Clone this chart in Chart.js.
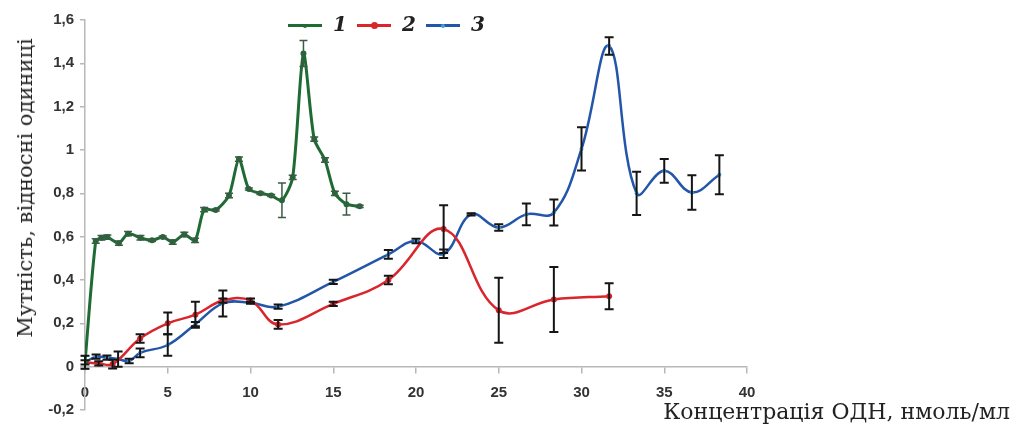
<!DOCTYPE html>
<html>
<head>
<meta charset="utf-8">
<script src="https://cdn.jsdelivr.net/npm/chart.js@4.4.1/dist/chart.umd.min.js"></script>
<style>
  html, body { margin: 0; padding: 0; background: #fff; }
  #wrap { position: relative; width: 1017px; height: 434px; overflow: hidden; }
  canvas { position: absolute; left: 0; top: 0; }
  .ytitle {
    position: absolute; left: 25px; top: 188px;
    transform: translate(-50%, -50%) rotate(-90deg);
    font-family: "DejaVu Serif", serif; font-size: 21px; color: #222;
    white-space: nowrap;
  }
  .xtitle {
    position: absolute; right: 7px; top: 399px;
    font-family: "DejaVu Serif", serif; font-size: 22px; color: #222;
    white-space: nowrap;
  }
  .legend { position: absolute; left: 288px; top: 12px; height: 26px; }
  .item { position: absolute; top: 0; height: 26px; }
  .item .ln { position: absolute; top: 12px; width: 34px; height: 3px; }
  .item .dot { position: absolute; border-radius: 50%; }
  .item .lab {
    position: absolute; top: 0; font-family: "DejaVu Serif", serif;
    font-style: italic; font-weight: bold; font-size: 20px; color: #222;
  }
</style>
</head>
<body>
<div id="wrap">
  <canvas id="turbidityChart" width="1017" height="434"></canvas>
  <div class="ytitle">Мутність, відносні одиниці</div>
  <div class="xtitle">Концентрація ОДН, нмоль/мл</div>
  <div class="legend" id="legend"></div>
</div>
<script>
// series 1 (green)
const x1 = [0, 0.65, 1.0, 1.35, 2.05, 2.6, 3.35, 4.05, 4.7, 5.3, 6.0, 6.65, 7.2, 7.9, 8.7, 9.3, 9.9, 10.6, 11.25, 11.9, 12.55, 13.2, 13.85, 14.5, 15.1, 15.8, 16.6];
const y1 = [0.02, 0.58, 0.595, 0.598, 0.57, 0.614, 0.595, 0.583, 0.598, 0.575, 0.61, 0.583, 0.725, 0.723, 0.79, 0.958, 0.82, 0.8, 0.79, 0.768, 0.874, 1.445, 1.05, 0.954, 0.8, 0.75, 0.74];
const e1 = [0.03, 0.01, 0.01, 0.01, 0.01, 0.01, 0.01, 0.005, 0.005, 0.01, 0.01, 0.01, 0.01, 0.005, 0.01, 0.01, 0.005, 0.005, 0.005, 0.08, 0.01, 0.06, 0.01, 0.01, 0.01, 0.05, 0.005];

// series 2 (red)
const x2 = [0, 0.83, 1.67, 3.33, 5, 6.67, 8.33, 10, 11.67, 15, 18.33, 21.67, 25, 28.33, 31.67];
const y2 = [0.02, 0.015, 0.012, 0.13, 0.2, 0.24, 0.305, 0.305, 0.195, 0.29, 0.4, 0.635, 0.26, 0.31, 0.325];
const e2 = [0.01, 0.01, 0.02, 0.02, 0.05, 0.06, 0.01, 0.01, 0.02, 0.01, 0.02, 0.11, 0.15, 0.15, 0.06];

// series 3 (blue)
const x3 = [0, 0.67, 1.33, 2.0, 2.67, 3.33, 5, 6.67, 8.33, 10, 11.67, 15, 18.33, 20, 21.67, 23.33, 25, 26.67, 28.33, 30, 31.67, 33.33, 35, 36.67, 38.33];
const y3 = [0.02, 0.046, 0.042, 0.035, 0.026, 0.064, 0.1, 0.196, 0.292, 0.295, 0.277, 0.391, 0.518, 0.58, 0.521, 0.703, 0.642, 0.703, 0.711, 1.005, 1.48, 0.8, 0.904, 0.804, 0.886];
const e3 = [0.03, 0.01, 0.01, 0.035, 0.01, 0.02, 0.05, 0.01, 0.06, 0.005, 0.01, 0.01, 0.02, 0.01, 0.02, 0.005, 0.015, 0.05, 0.06, 0.1, 0.04, 0.1, 0.055, 0.08, 0.09];

const xTicks = [0, 5, 10, 15, 20, 25, 30, 35, 40];
const yTicks = [-0.2, 0, 0.2, 0.4, 0.6, 0.8, 1, 1.2, 1.4, 1.6];

const seriesNames = ["1", "2", "3"];
const lineColors = ["#1f6b34", "#d8262c", "#2356a8"];
const markColors = ["#1f6b34", "#d8262c", "#3d9ee0"];

function toPoints(xs, ys) {
  return xs.map((x, i) => ({ x: x, y: ys[i] }));
}

// error bars drawn through the chart scales
const errorBars = {
  id: "errorBars",
  afterDatasetsDraw(chart) {
    const { ctx, scales } = chart;
    ctx.save();
    chart.data.datasets.forEach((ds) => {
      if (!ds.err) return;
      ctx.strokeStyle = ds.errColor;
      ctx.lineWidth = ds.errWidth;
      ds.data.forEach((p, i) => {
        const px = scales.x.getPixelForValue(p.x);
        const top = scales.y.getPixelForValue(p.y + ds.err[i]);
        const bot = scales.y.getPixelForValue(p.y - ds.err[i]);
        const c = ds.errCap;
        ctx.beginPath();
        ctx.moveTo(px, top);
        ctx.lineTo(px, bot);
        ctx.moveTo(px - c, top);
        ctx.lineTo(px + c, top);
        ctx.moveTo(px - c, bot);
        ctx.lineTo(px + c, bot);
        ctx.stroke();
      });
    });
    ctx.restore();
  },
};

const ctx = document.getElementById("turbidityChart").getContext("2d");
new Chart(ctx, {
  type: "line",
  data: {
    datasets: [
      {
        label: seriesNames[0],
        data: toPoints(x1, y1),
        err: e1,
        errColor: "#3c5a44",
        errWidth: 1.5,
        errCap: 4,
        borderColor: lineColors[0],
        backgroundColor: markColors[0],
        borderWidth: 3,
        pointRadius: 1.5,
        tension: 0.25,
      },
      {
        label: seriesNames[1],
        data: toPoints(x2, y2),
        err: e2,
        errColor: "#151515",
        errWidth: 2,
        errCap: 4.5,
        borderColor: lineColors[1],
        backgroundColor: markColors[1],
        borderWidth: 2.5,
        pointRadius: 3,
        pointBorderWidth: 0,
        tension: 0.4,
      },
      {
        label: seriesNames[2],
        data: toPoints(x3, y3),
        err: e3,
        errColor: "#151515",
        errWidth: 2,
        errCap: 4.5,
        borderColor: lineColors[2],
        backgroundColor: markColors[2],
        borderWidth: 2.5,
        pointRadius: 2,
        pointBorderWidth: 0,
        tension: 0.4,
      },
    ],
  },
  options: {
    responsive: false,
    animation: false,
    layout: { padding: { left: 0, top: 20, right: 270, bottom: 24 } },
    plugins: {
      legend: { display: false },
      tooltip: { enabled: false },
    },
    scales: {
      x: {
        type: "linear",
        position: { y: 0 },
        min: 0,
        max: 40,
        afterBuildTicks: (scale) => {
          scale.ticks = xTicks.map((v) => ({ value: v }));
        },
        ticks: {
          padding: 11,
          color: "#333",
          font: { family: "Liberation Sans", size: 15, weight: "bold" },
        },
        grid: { drawOnChartArea: false, drawTicks: true, tickLength: 6, color: "#b8b8b8", lineWidth: 1.5 },
        border: { display: true, color: "#b8b8b8", width: 1.5 },
      },
      y: {
        type: "linear",
        min: -0.2,
        max: 1.6,
        afterFit: (scale) => {
          scale.width = 85;
        },
        afterBuildTicks: (scale) => {
          scale.ticks = yTicks.map((v) => ({ value: v }));
        },
        ticks: {
          padding: 6,
          color: "#333",
          font: { family: "Liberation Sans", size: 15, weight: "bold" },
          callback: (v) => String(Number(v.toFixed(1))).replace(".", ","),
        },
        grid: { drawOnChartArea: false, drawTicks: true, tickLength: 5, color: "#b8b8b8", lineWidth: 1.5 },
        border: { display: true, color: "#b8b8b8", width: 1.5 },
      },
    },
  },
  plugins: [errorBars],
});

// legend
const legend = document.getElementById("legend");
const offsets = [0, 69, 138];
seriesNames.forEach((name, i) => {
  const item = document.createElement("div");
  item.className = "item";
  item.style.left = offsets[i] + "px";
  const ln = document.createElement("div");
  ln.className = "ln";
  ln.style.background = lineColors[i];
  const dot = document.createElement("div");
  dot.className = "dot";
  const r = i === 1 ? 3.5 : 2;
  dot.style.width = dot.style.height = r * 2 + "px";
  dot.style.left = 17 - r + "px";
  dot.style.top = 13.5 - r + "px";
  dot.style.background = markColors[i];
  const lab = document.createElement("span");
  lab.className = "lab";
  lab.style.left = "45px";
  lab.textContent = name;
  item.appendChild(ln);
  item.appendChild(dot);
  item.appendChild(lab);
  legend.appendChild(item);
});
</script>
</body>
</html>
